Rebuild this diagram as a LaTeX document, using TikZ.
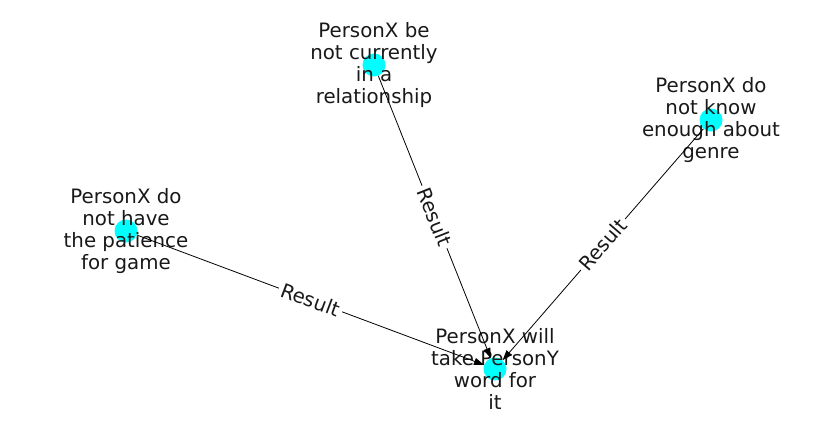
\documentclass[tikz,border=0pt]{standalone}
\usepackage{fontspec}
\setmainfont{DejaVu Sans}
\usetikzlibrary{arrows.meta}
\definecolor{nodecyan}{RGB}{0,255,255}

\tikzset{
  vert/.style={circle,fill=nodecyan,minimum size=23pt,inner sep=0pt},
  txt/.style={align=center,inner sep=0pt,text=black!90,
    font=\fontsize{19.8}{21.7}\selectfont},
  edge/.style={draw=black,line width=0.8pt,-{Triangle[length=10pt,width=7pt]}},
  rel/.style={sloped,fill=white,inner sep=3pt,text=black!90,
    font=\fontsize{19.8}{21.7}\selectfont}
}

\begin{document}
\begin{tikzpicture}[x=1pt,y=1pt]
  \useasboundingbox (0,0) rectangle (837,-434);
  % heads
  \node[vert] (single) at (374,-65) {};
  \node[vert] (genre) at (711,-120) {};
  \node[vert] (patience) at (126,-231) {};
  \node[vert] (word) at (495,-369) {};
  % head texts
  \node[txt] (single-t) at (single) {PersonX be\\not currently\\in a\\relationship};
  \node[txt] (genre-t) at (genre) {PersonX do\\not know\\enough about\\genre};
  \node[txt] (patience-t) at (patience) {PersonX do\\not have\\the patience\\for game};
  \node[txt] (word-t) at (word) {PersonX will\\take PersonY\\word for\\it};
  % relations
  \draw[edge] (single) -- node[rel] {Result} (word);
  \draw[edge] (genre) -- node[rel] {Result} (word);
  \draw[edge] (patience) -- node[rel] {Result} (word);
\end{tikzpicture}
\end{document}
